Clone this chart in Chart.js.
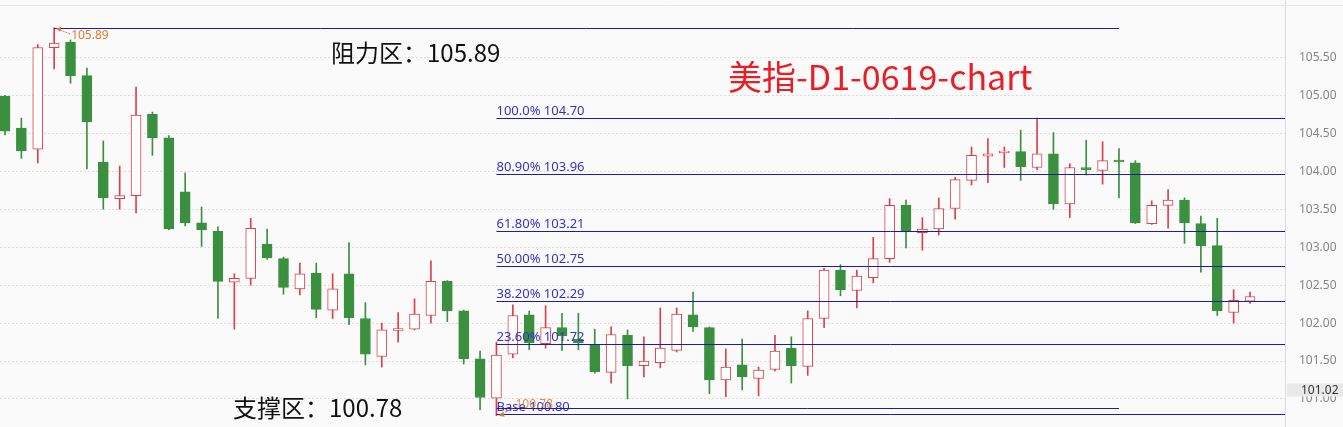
<!DOCTYPE html>
<html>
<head>
<meta charset="utf-8">
<script src="https://cdn.jsdelivr.net/npm/chart.js@4.4.1/dist/chart.umd.min.js"></script>
<style>
  html, body { margin: 0; padding: 0; background: #fafafa; }
  #wrap { width: 1343px; height: 427px; position: relative; }
</style>
</head>
<body>
<div id="wrap"><canvas id="kline"></canvas></div>
<script>
'use strict';

// ─── Daily candles ────────────────────────────────────────────
const opens  = [104.99,104.57,104.29,105.63,105.70,105.26,104.12,103.64,103.68,104.75,
                104.44,103.73,103.32,103.21,102.54,102.59,103.04,102.85,102.45,102.66,
                102.17,102.65,102.06,101.56,101.91,101.92,102.10,102.55,102.16,101.53,
                101.01,101.59,102.11,101.73,101.94,101.79,101.72,101.35,101.84,101.44,
                101.48,101.64,102.11,101.94,101.25,101.45,101.27,101.39,101.67,101.43,
                102.06,102.70,102.43,102.60,102.85,103.55,103.19,103.24,103.51,103.88,
                104.20,104.25,104.26,104.05,104.23,103.57,104.04,104.01,104.14,104.11,
                103.31,103.55,103.62,103.31,103.02,102.14,102.29];
const highs  = [105.00,104.70,105.67,105.89,105.73,105.36,104.40,104.07,105.11,104.78,
                104.47,103.98,103.53,103.27,102.65,103.38,103.24,102.87,102.79,102.79,
                102.65,103.06,102.27,102.00,102.14,102.32,102.82,102.56,102.17,101.63,
                101.75,102.24,102.16,102.23,102.13,102.13,101.92,101.95,101.91,101.82,
                102.20,102.20,102.41,101.95,101.66,101.79,101.42,101.84,101.82,102.16,
                102.72,102.77,102.70,103.13,103.64,103.62,103.39,103.65,103.92,104.32,
                104.43,104.32,104.54,104.70,104.51,104.10,104.41,104.39,104.30,104.14,
                103.61,103.76,103.65,103.41,103.38,102.44,102.41];
const lows   = [104.48,104.17,104.11,105.35,105.16,104.03,103.50,103.50,103.45,104.21,
                103.23,103.28,103.01,102.06,101.92,102.50,102.84,102.38,102.37,102.07,
                102.06,101.98,101.45,101.42,101.75,101.91,102.00,102.02,101.46,100.86,
                100.78,101.54,101.65,101.67,101.64,101.65,101.34,101.21,101.00,101.29,
                101.41,101.62,101.89,101.07,101.03,101.12,101.04,101.37,101.21,101.31,
                101.94,102.36,102.20,102.53,102.80,102.99,102.96,103.16,103.37,103.82,
                103.85,104.05,103.88,104.02,103.50,103.39,103.95,103.83,103.65,103.31,
                103.30,103.25,103.05,102.67,102.10,102.00,102.26];
const closes = [104.53,104.27,105.63,105.69,105.26,104.65,103.65,103.68,104.74,104.44,
                103.24,103.32,103.23,102.55,102.59,103.25,102.86,102.47,102.65,102.18,
                102.45,102.07,101.59,101.91,101.92,102.12,102.55,102.16,101.53,101.02,
                101.58,102.10,101.74,101.94,101.83,101.74,101.36,101.85,101.44,101.50,
                101.67,102.12,101.95,101.25,101.42,101.29,101.38,101.63,101.44,102.06,
                102.70,102.44,102.62,102.85,103.55,103.20,103.24,103.51,103.89,104.21,
                104.23,104.26,104.06,104.23,103.57,104.05,104.03,104.14,104.13,103.32,
                103.55,103.62,103.32,103.02,102.16,102.30,102.35];

// ─── Fibonacci retracement (from 100.80 base to 104.70 top) ───
const fibPcts   = ['100.0%', '80.90%', '61.80%', '50.00%', '38.20%', '23.60%', 'Base'];
const fibLevels = [104.70, 103.96, 103.21, 102.75, 102.29, 101.72, 100.80];
const fibFrom   = 30;   // candle index where the fib tool starts

// ─── Zones / labels ───────────────────────────────────────────
const resistance   = 105.89;
const resistFrom   = 3;
const support      = 100.88;
const supportLow   = 100.78;
const zoneTo       = 68;
const lowIndex     = 30;
const lastPrice    = 101.02;
const yTicks       = [101.00, 101.50, 102.00, 102.50, 103.00, 103.50, 104.00, 104.50, 105.00, 105.50];

const UP   = '#d9424b';
const DOWN = '#3a903e';
const NAVY = '#1c1ca6';

// ─── Build datasets ───────────────────────────────────────────
const idx    = opens.map((_, i) => i);
const isUp   = idx.map(i => closes[i] >= opens[i]);
const wicks  = idx.map(i => ({ x: i, y: [lows[i], highs[i]] }));
const bodies = idx.map(i => {
  let lo = Math.min(opens[i], closes[i]);
  let hi = Math.max(opens[i], closes[i]);
  if (hi - lo < 0.025) { const m = (hi + lo) / 2; lo = m - 0.0125; hi = m + 0.0125; }
  return { x: i, y: [lo, hi] };
});

// ─── Overlay plugin: lines and texts ──────────────────────────
const overlay = {
  id: 'overlay',
  afterDatasetsDraw(chart) {
    const { ctx, chartArea: a, scales: { x, y } } = chart;
    const hline = (x0, x1, v, color) => {
      const py = Math.round(y.getPixelForValue(v)) + 0.5;
      ctx.strokeStyle = color; ctx.lineWidth = 1;
      ctx.beginPath(); ctx.moveTo(x0, py); ctx.lineTo(x1, py); ctx.stroke();
      return py;
    };
    ctx.save();

    // top frame line
    ctx.strokeStyle = '#e6e6e6';
    ctx.beginPath(); ctx.moveTo(0, 5.5); ctx.lineTo(chart.width, 5.5); ctx.stroke();

    // fib levels
    const fx = x.getPixelForValue(fibFrom);
    ctx.font = '13px "Noto Sans"';
    ctx.textBaseline = 'bottom';
    ctx.textAlign = 'left';
    fibLevels.forEach((v, k) => {
      const py = hline(fx, a.right, v, NAVY);
      ctx.fillStyle = '#3434c4';
      ctx.fillText(fibPcts[k] + ' ' + v.toFixed(2), fx, py - 1);
    });

    // resistance / support lines
    hline(x.getPixelForValue(resistFrom), x.getPixelForValue(zoneTo), resistance, NAVY);
    hline(fx, x.getPixelForValue(zoneTo), support, NAVY);

    // orange price tags with small arrows
    ctx.strokeStyle = '#e07a2a'; ctx.fillStyle = '#e07a2a';
    ctx.font = '12px "Noto Sans"';
    const hx = x.getPixelForValue(resistFrom), hy = y.getPixelForValue(resistance);
    ctx.setLineDash([2, 1]);
    ctx.beginPath(); ctx.moveTo(hx + 16, hy + 6); ctx.lineTo(hx + 3, hy + 1); ctx.stroke();
    ctx.setLineDash([]);
    ctx.beginPath(); ctx.moveTo(hx + 2, hy + 1); ctx.lineTo(hx + 7, hy - 1); ctx.lineTo(hx + 6, hy + 4); ctx.closePath(); ctx.fill();
    ctx.textBaseline = 'middle';
    ctx.fillText(resistance.toFixed(2), hx + 17, hy + 8);

    const lx = x.getPixelForValue(lowIndex), ly = y.getPixelForValue(supportLow);
    ctx.setLineDash([2, 1]);
    ctx.beginPath(); ctx.moveTo(lx + 16, ly - 7); ctx.lineTo(lx + 3, ly - 1); ctx.stroke();
    ctx.setLineDash([]);
    ctx.beginPath(); ctx.moveTo(lx + 2, ly); ctx.lineTo(lx + 7, ly - 4); ctx.lineTo(lx + 8, ly + 1); ctx.closePath(); ctx.fill();
    ctx.globalAlpha = 0.85;
    ctx.fillText(supportLow.toFixed(2), lx + 19, ly - 11);
    ctx.globalAlpha = 1;

    // zone captions
    ctx.fillStyle = '#111';
    ctx.font = '24px "Noto Sans CJK SC"';
    ctx.textBaseline = 'middle';
    ctx.fillText('阻力区：' + resistance.toFixed(2), 331, 53);
    ctx.fillText('支撑区：' + supportLow.toFixed(2), 233, 408);

    // title
    ctx.fillStyle = '#ec1c24';
    ctx.font = '34px "Noto Sans CJK SC"';
    ctx.fillText('美指-D1-0619-chart', 728, 77);

    // last price box on the axis
    const py = y.getPixelForValue(lastPrice) - 8;
    ctx.fillStyle = '#e9e9e9';
    ctx.fillRect(a.right + 2, py - 6, chart.width - a.right - 2, 13);
    ctx.fillStyle = '#333';
    ctx.font = '12px "Noto Sans"';
    ctx.fillText(lastPrice.toFixed(2), a.right + 16, py + 1);

    ctx.restore();
  }
};

const bgPlugin = {
  id: 'bg',
  beforeDraw(chart) {
    const c = chart.ctx;
    c.save(); c.fillStyle = '#fafafa'; c.fillRect(0, 0, chart.width, chart.height); c.restore();
  }
};

// ─── Chart ────────────────────────────────────────────────────
new Chart(document.getElementById('kline'), {
  type: 'bar',
  data: {
    datasets: [
      {
        label: 'wick',
        data: wicks,
        backgroundColor: idx.map(i => isUp[i] ? UP : DOWN),
        barThickness: 1,
        grouped: false,
        order: 2,
      },
      {
        label: 'body',
        data: bodies,
        backgroundColor: idx.map(i => isUp[i] ? '#ffffff' : DOWN),
        borderColor: idx.map(i => isUp[i] ? UP : DOWN),
        borderWidth: 1,
        borderSkipped: false,
        barThickness: 10,
        grouped: false,
        order: 1,
      },
    ]
  },
  options: {
    responsive: true,
    maintainAspectRatio: false,
    animation: false,
    layout: { padding: 0 },
    plugins: { legend: { display: false }, tooltip: { enabled: false } },
    scales: {
      x: {
        type: 'linear',
        display: false,
        min: -0.305,
        max: 78.135,
        offset: false,
      },
      y: {
        position: 'right',
        min: 100.631,
        max: 106.257,
        afterFit(scale) {
          scale.width = 58;
          scale.paddingTop = 0;
          scale.paddingBottom = 0;
        },
        afterBuildTicks(scale) { scale.ticks = yTicks.map(v => ({ value: v })); },
        ticks: {
          color: '#858585',
          font: { family: 'Noto Sans', size: 12 },
          padding: 14,
          callback: v => Number(v).toFixed(2),
        },
        grid: { color: '#dcdcdc', drawTicks: false },
        border: { display: true, color: '#dddddd', dash: [2, 2] },
      }
    }
  },
  plugins: [bgPlugin, overlay]
});
</script>
</body>
</html>
